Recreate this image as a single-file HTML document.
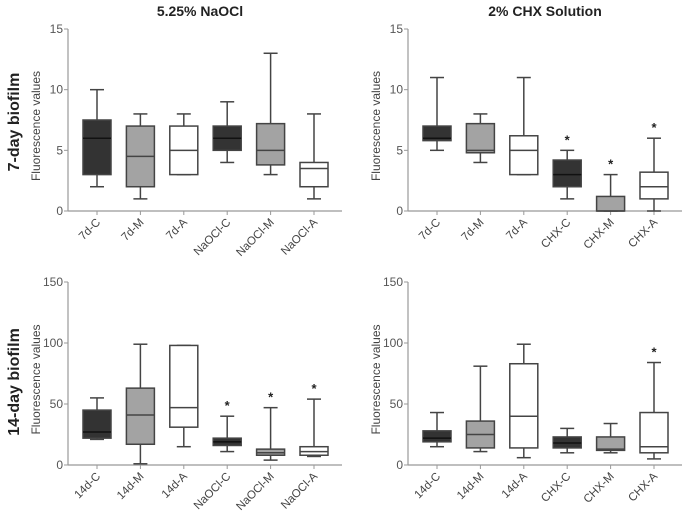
<!DOCTYPE html>
<html><head><meta charset="utf-8"><style>
body{margin:0;background:#fff}
svg{display:block;font-family:"Liberation Sans",sans-serif}
</style></head><body>
<svg id="chart" width="685" height="515" viewBox="0 0 685 515">
<text x="200" y="16" text-anchor="middle" font-size="14" font-weight="bold" fill="#222">5.25% NaOCl</text>
<text x="545" y="16" text-anchor="middle" font-size="14" font-weight="bold" fill="#222">2% CHX Solution</text>
<text transform="translate(19,122) rotate(-90)" text-anchor="middle" font-size="16" font-weight="bold" fill="#222">7-day biofilm</text>
<text transform="translate(19,382) rotate(-90)" text-anchor="middle" font-size="16" font-weight="bold" fill="#222">14-day biofilm</text>
</svg>
<script>
// Panel categories
const catsTL = ["7d-C","7d-M","7d-A","NaOCl-C","NaOCl-M","NaOCl-A"];
const catsTR = ["7d-C","7d-M","7d-A","CHX-C","CHX-M","CHX-A"];
const catsBL = ["14d-C","14d-M","14d-A","NaOCl-C","NaOCl-M","NaOCl-A"];
const catsBR = ["14d-C","14d-M","14d-A","CHX-C","CHX-M","CHX-A"];
// stats: [min, q1, median, q3, max]
const statsTL = [[2,3,6,7.5,10],[1,2,4.5,7,8],[3,3,5,7,8],[4,5,6,7,9],[3,3.8,5,7.2,13],[1,2,3.5,4,8]];
const statsTR = [[5,5.8,6,7,11],[4,4.8,5,7.2,8],[3,3,5,6.2,11],[1,2,3,4.2,5],[0,0,0,1.2,3],[0,1,2,3.2,6]];
const statsBL = [[21,22,27,45,55],[1,17,41,63,99],[15,31,47,98,98],[11,16,19,22,40],[4,8,10,13,47],[7,8,11,15,54]];
const statsBR = [[15,19,22,28,43],[11,14,25,36,81],[6,14,40,83,99],[10,14,18,23,30],[10,12,13,23,34],[5,10,15,43,84]];
const starsTL = [0,0,0,0,0,0];
const starsTR = [0,0,0,1,1,1];
const starsBL = [0,0,0,1,1,1];
const starsBR = [0,0,0,0,0,1];
const ticks7 = [0,5,10,15];
const ticks14 = [0,50,100,150];
const fills = ["#333333","#a3a3a3","#ffffff","#333333","#a3a3a3","#ffffff"];

const svg = document.getElementById('chart');
const NS = "http://www.w3.org/2000/svg";
function mk(tag, attrs, parent){const e=document.createElementNS(NS,tag);for(const k in attrs)e.setAttribute(k,attrs[k]);(parent||svg).appendChild(e);return e;}

function panel(id, ax, top, bottom, ymax, ticks, cats, stats, stars){
  const g = mk('g',{});
  
  
  const y = v => bottom - (v/ymax)*(bottom-top);
  const step = 43.4, x0 = ax + 29;
  const x = i => x0 + i*step;
  const ya = mk('line',{x1:ax,y1:top,x2:ax,y2:bottom,stroke:'#999','stroke-width':1.2},g);
  
  
  const xa = mk('line',{x1:ax,y1:bottom,x2:ax+274,y2:bottom,stroke:'#999','stroke-width':1.2},g);
  
  
  ticks.forEach(t=>{
    mk('line',{x1:ax-4,y1:y(t),x2:ax,y2:y(t),stroke:'#999'},g);
    const tl = mk('text',{x:ax-5,y:y(t)+4,'text-anchor':'end','font-size':12,fill:'#555'},g);
    tl.textContent = t;
    
    
  });
  const yt = mk('text',{transform:`translate(${ax-28},${(top+bottom)/2+6}) rotate(-90)`,'text-anchor':'middle','font-size':12,fill:'#444'},g);
  yt.textContent = 'Fluorescence values';
  
  
  const bw = 28;
  stats.forEach((s,i)=>{
    const cx = x(i);
    mk('line',{x1:cx,y1:bottom,x2:cx,y2:bottom+4,stroke:'#999'},g);
    const lb = mk('text',{transform:`translate(${cx+4},${bottom+12}) rotate(-45)`,'text-anchor':'end','font-size':11.5,fill:'#444'},g);
    lb.textContent = cats[i];
    
    
    const bg = mk('g',{stroke:'#444','stroke-width':1.5,fill:'none'},g);
    
    
    mk('line',{x1:cx,y1:y(s[4]),x2:cx,y2:y(s[3])},bg);
    mk('line',{x1:cx,y1:y(s[0]),x2:cx,y2:y(s[1])},bg);
    mk('line',{x1:cx-bw/4,y1:y(s[4]),x2:cx+bw/4,y2:y(s[4])},bg);
    mk('line',{x1:cx-bw/4,y1:y(s[0]),x2:cx+bw/4,y2:y(s[0])},bg);
    mk('rect',{x:cx-bw/2,y:y(s[3]),width:bw,height:Math.max(0.5,y(s[1])-y(s[3])),fill:fills[i]},bg);
    mk('line',{x1:cx-bw/2,y1:y(s[2]),x2:cx+bw/2,y2:y(s[2]),stroke:i%3===0?'#111':'#444'},bg);
    if(stars[i]){
      const st = mk('text',{x:cx,y:y(s[4])-6,'text-anchor':'middle','font-size':13,'font-weight':'bold',fill:'#222'},g);
      st.textContent='*';
      
      
    }
  });
}
panel('top-left',68,29,211,15,ticks7,catsTL,statsTL,starsTL);
panel('top-right',408,29,211,15,ticks7,catsTR,statsTR,starsTR);
panel('bottom-left',68,282,465,150,ticks14,catsBL,statsBL,starsBL);
panel('bottom-right',408,282,465,150,ticks14,catsBR,statsBR,starsBR);
</script>
</body></html>
